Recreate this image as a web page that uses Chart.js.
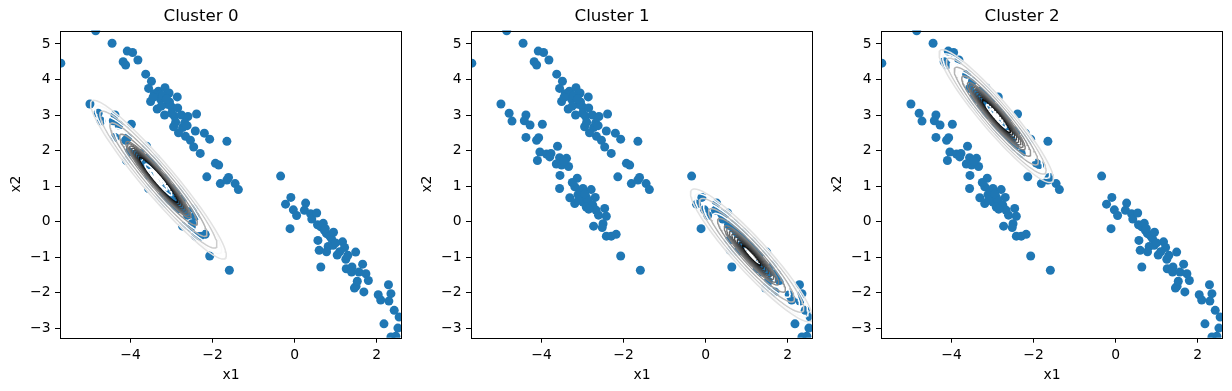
<!DOCTYPE html>
<html>
<head>
<meta charset="utf-8">
<script src="https://cdn.jsdelivr.net/npm/chart.js@4.4.1/dist/chart.umd.min.js"></script>
<style>
  html, body { margin: 0; padding: 0; background: #fff; }
  #wrap { position: relative; width: 1232px; height: 391px; overflow: hidden; }
  canvas { position: absolute; top: 0; }
</style>
</head>
<body>
<div id="wrap">
  <canvas id="c0" width="411" height="391" style="left:0px"></canvas>
  <canvas id="c1" width="411" height="391" style="left:411px"></canvas>
  <canvas id="c2" width="411" height="391" style="left:821px"></canvas>
</div>
<script>
// Scatter points (x1, x2), same in all three panels
const upperPoints = [
  [-5.70,4.46],[-4.85,5.37],[-4.45,5.02],[-4.08,4.80],[-3.95,4.76],[-3.82,4.55],[-4.18,4.50],[-4.12,4.41],
  [-3.63,4.15],[-3.49,3.95],[-3.56,3.75],[-3.51,3.38],[-3.32,3.67],[-3.16,3.77],[-3.06,3.62],[-2.86,3.51],
  [-3.27,3.45],[-3.35,3.17],[-3.17,3.00],[-3.00,3.23],[-3.05,3.37],[-2.93,2.97],[-2.76,3.00],[-2.60,2.96],
  [-2.39,3.03],[-2.95,2.67],[-2.73,2.65],[-2.66,2.40],[-2.83,2.50],[-2.54,2.29],[-2.42,2.55],[-2.46,2.10],
  [-2.20,2.49],[-2.07,2.32],[-2.30,1.92],[-1.65,2.26],[-1.93,1.64],[-1.85,1.59],[-2.14,1.26],[-1.81,1.07],
  [-1.65,1.17],[-1.61,1.24],[-1.45,1.07],[-1.37,0.90],[-3.22,3.55],[-3.10,3.30],[-2.90,2.80],[-3.42,3.60],
  [-2.68,2.78],[-3.25,3.25],[-3.00,3.05],[-2.85,3.20],[-3.45,3.50],[-2.62,2.70],[-3.12,3.45]
];
const lowerPoints = [
  [-4.99,3.31],[-4.79,3.05],[-4.72,2.83],[-4.38,3.00],[-4.42,2.84],[-4.28,2.72],[-3.98,2.74],[-4.38,2.37],
  [-4.07,2.36],[-4.12,2.29],[-3.61,2.12],[-4.04,1.96],[-3.88,1.90],[-3.77,1.92],[-3.80,1.82],[-4.10,1.72],
  [-3.56,1.80],[-3.39,1.78],[-3.64,1.62],[-3.51,1.59],[-3.34,1.55],[-3.55,1.30],[-3.13,1.22],[-3.56,0.93],
  [-3.19,0.98],[-2.99,0.93],[-2.79,0.90],[-3.31,0.67],[-3.11,0.76],[-2.91,0.69],[-2.69,0.68],[-3.07,0.69],
  [-3.19,0.51],[-2.99,0.55],[-2.87,0.60],[-2.91,0.41],[-2.75,0.46],[-2.67,0.32],[-2.46,0.37],[-2.61,0.18],
  [-2.42,0.15],[-2.73,-0.13],[-2.50,-0.06],[-2.52,-0.17],[-2.42,-0.41],[-2.30,-0.41],[-2.18,-0.36],[-2.07,-0.97],
  [-1.59,-1.37],[-3.45,1.70],[-3.25,1.10],[-3.05,0.85],[-2.85,0.35],[-3.10,0.60],[-2.95,0.78]
];
const rightPoints = [
  [-0.34,1.28],[-0.22,0.49],[-0.09,0.68],[-0.03,0.33],[0.05,0.17],[-0.11,-0.20],[0.27,0.52],[0.24,0.32],
  [0.39,0.22],[0.42,0.07],[0.54,0.24],[0.56,-0.09],[0.64,-0.15],[0.73,-0.25],[0.78,-0.34],[0.57,-0.53],
  [0.60,-0.81],[0.86,-0.41],[0.90,-0.48],[0.82,-0.70],[0.78,-0.85],[0.94,-0.67],[1.04,-0.94],[1.17,-0.57],
  [1.22,-0.73],[1.25,-1.06],[1.49,-0.86],[1.26,-1.33],[1.40,-1.28],[1.39,-1.42],[1.66,-1.20],[0.64,-1.28],
  [1.57,-1.42],[1.74,-1.47],[1.80,-1.66],[1.69,-1.98],[1.50,-1.82],[1.46,-1.87],[1.53,-1.68],[2.04,-2.06],
  [2.10,-2.21],[2.29,-1.78],[2.35,-2.03],[2.30,-2.24],[2.43,-2.50],[2.18,-2.88],[2.55,-2.69],[2.52,-3.00],
  [2.47,-3.23],[2.35,-3.25],[0.70,-0.05],[1.00,-0.60],[1.10,-0.85],[0.95,-0.30],[0.75,-0.20],[1.30,-0.95]
];

// Gaussian component of each cluster (contour ellipses)
const clusterTitles = ['Cluster 0', 'Cluster 1', 'Cluster 2'];
const meanX1 = [-3.32, 1.12, -2.91];
const meanX2 = [1.18, -0.95, 2.97];
const axisDir = [[1.62, -2.22], [1.45, -1.85], [1.36, -1.86]];
const innerLen = [0.78, 0.36, 0.57];   // half-length of darkest ring
const midLen = [1.40, 1.15, 1.25];     // end of dense grey band
const outerLen = [2.75, 2.35, 2.30];   // faintest ring
const aspect = [0.15, 0.18, 0.17];

// Axes
const xRange = [-5.72, 2.62];
const yRange = [-3.27, 5.38];
const xTicks = [-4, -2, 0, 2];
const yTicks = [-3, -2, -1, 0, 1, 2, 3, 4, 5];

const FONT = 'DejaVu Sans';
const allPoints = upperPoints.concat(lowerPoints, rightPoints).map(p => ({x: p[0], y: p[1]}));

function ellipse(k, len) {
    const n = Math.hypot(axisDir[k][0], axisDir[k][1]);
    const ux = axisDir[k][0] / n, uy = axisDir[k][1] / n;
    const vx = -uy, vy = ux;
    const minor = len * aspect[k];
    const pts = [];
    for (let i = 0; i <= 120; i++) {
        const t = i / 120 * Math.PI * 2;
        pts.push({
            x: meanX1[k] + len * Math.cos(t) * ux + minor * Math.sin(t) * vx,
            y: meanX2[k] + len * Math.cos(t) * uy + minor * Math.sin(t) * vy
        });
    }
    return pts;
}

function grey(v) {
    v = Math.round(v);
    return 'rgb(' + v + ',' + v + ',' + v + ')';
}

function contourSets(k) {
    const rings = [];
    // faint outer rings, with near-white ones in between
    const outer = [[1.0, 226], [0.86, 250], [0.72, 205], [0.58, 255], [0.42, 180], [0.28, 252], [0.13, 150]];
    outer.forEach(o => rings.push({len: midLen[k] + (outerLen[k] - midLen[k]) * o[0], c: grey(o[1]), w: 1.5}));
    // grey band towards the darkest ring
    for (let j = 7; j >= 1; j--) {
        const f = j / 8;
        rings.push({len: innerLen[k] + (midLen[k] - innerLen[k]) * f, c: grey(30 + 110 * f), w: 1.3});
    }
    rings.push({len: innerLen[k], c: grey(15), w: 1.7});
    rings.push({len: innerLen[k] * 0.7, c: grey(255), w: 1.5});
    rings.push({len: innerLen[k] * 0.45, c: grey(255), w: 1.5});
    rings.push({len: innerLen[k] * 0.2, c: grey(255), w: 1.5});
    return rings.map(r => ({
        data: ellipse(k, r.len),
        showLine: true,
        borderColor: r.c,
        borderWidth: r.w,
        pointRadius: 0,
        fill: false,
        order: 1,
        clip: 0
    }));
}

const boxPlugin = {
    id: 'box',
    afterDatasetsDraw(chart) {
        const a = chart.chartArea;
        const ctx = chart.ctx;
        ctx.save();
        ctx.strokeStyle = '#000';
        ctx.lineWidth = 1;
        ctx.strokeRect(Math.round(a.left) + 0.5, Math.round(a.top) + 0.5,
            Math.round(a.right - a.left) - 1, Math.round(a.bottom - a.top));
        ctx.restore();
    }
};

function fmt(v) {
    return v < 0 ? '\u2212' + Math.abs(v) : String(v);
}

clusterTitles.forEach(function(title, k) {
    new Chart(document.getElementById('c' + k), {
        type: 'scatter',
        data: {
            datasets: contourSets(k).concat([{
                data: allPoints,
                backgroundColor: '#1f77b4',
                pointRadius: 4.5,
                pointHoverRadius: 4.5,
                pointBorderWidth: 0,
                order: 2,
                clip: 0
            }])
        },
        options: {
            responsive: false,
            devicePixelRatio: 1,
            animation: false,
            events: [],
            layout: { padding: { left: 0, right: 9, top: 0, bottom: 0 } },
            plugins: {
                legend: { display: false },
                tooltip: { enabled: false },
                title: {
                    display: true,
                    text: title,
                    color: '#000',
                    font: { family: FONT, size: 16.67, weight: 'normal' },
                    padding: { top: 6.7, bottom: 3.8 }
                }
            },
            scales: {
                x: {
                    type: 'linear',
                    min: xRange[0],
                    max: xRange[1],
                    afterBuildTicks: s => { s.ticks = xTicks.map(v => ({value: v})); },
                    afterFit: s => { s.height = 53.3; },
                    grid: { display: true, drawOnChartArea: false, drawTicks: true, tickLength: 5, tickColor: '#000', tickWidth: 1 },
                    border: { display: false },
                    ticks: { color: '#000', padding: 4.5, font: { family: FONT, size: 13.89 }, callback: fmt, maxRotation: 0 },
                    title: { display: true, text: 'x1', color: '#000', font: { family: FONT, size: 13.89 }, padding: { top: 0, bottom: 7.7 } }
                },
                y: {
                    type: 'linear',
                    min: yRange[0],
                    max: yRange[1],
                    afterBuildTicks: s => { s.ticks = yTicks.map(v => ({value: v})); },
                    afterFit: s => { s.width = 60; },
                    grid: { display: true, drawOnChartArea: false, drawTicks: true, tickLength: 5, tickColor: '#000', tickWidth: 1 },
                    border: { display: false },
                    ticks: { color: '#000', padding: 4.5, font: { family: FONT, size: 13.89 }, callback: fmt },
                    title: { display: true, text: 'x2', color: '#000', font: { family: FONT, size: 13.89 }, padding: { top: 7.7, bottom: 0 } }
                }
            }
        },
        plugins: [boxPlugin]
    });
});
</script>
</body>
</html>
